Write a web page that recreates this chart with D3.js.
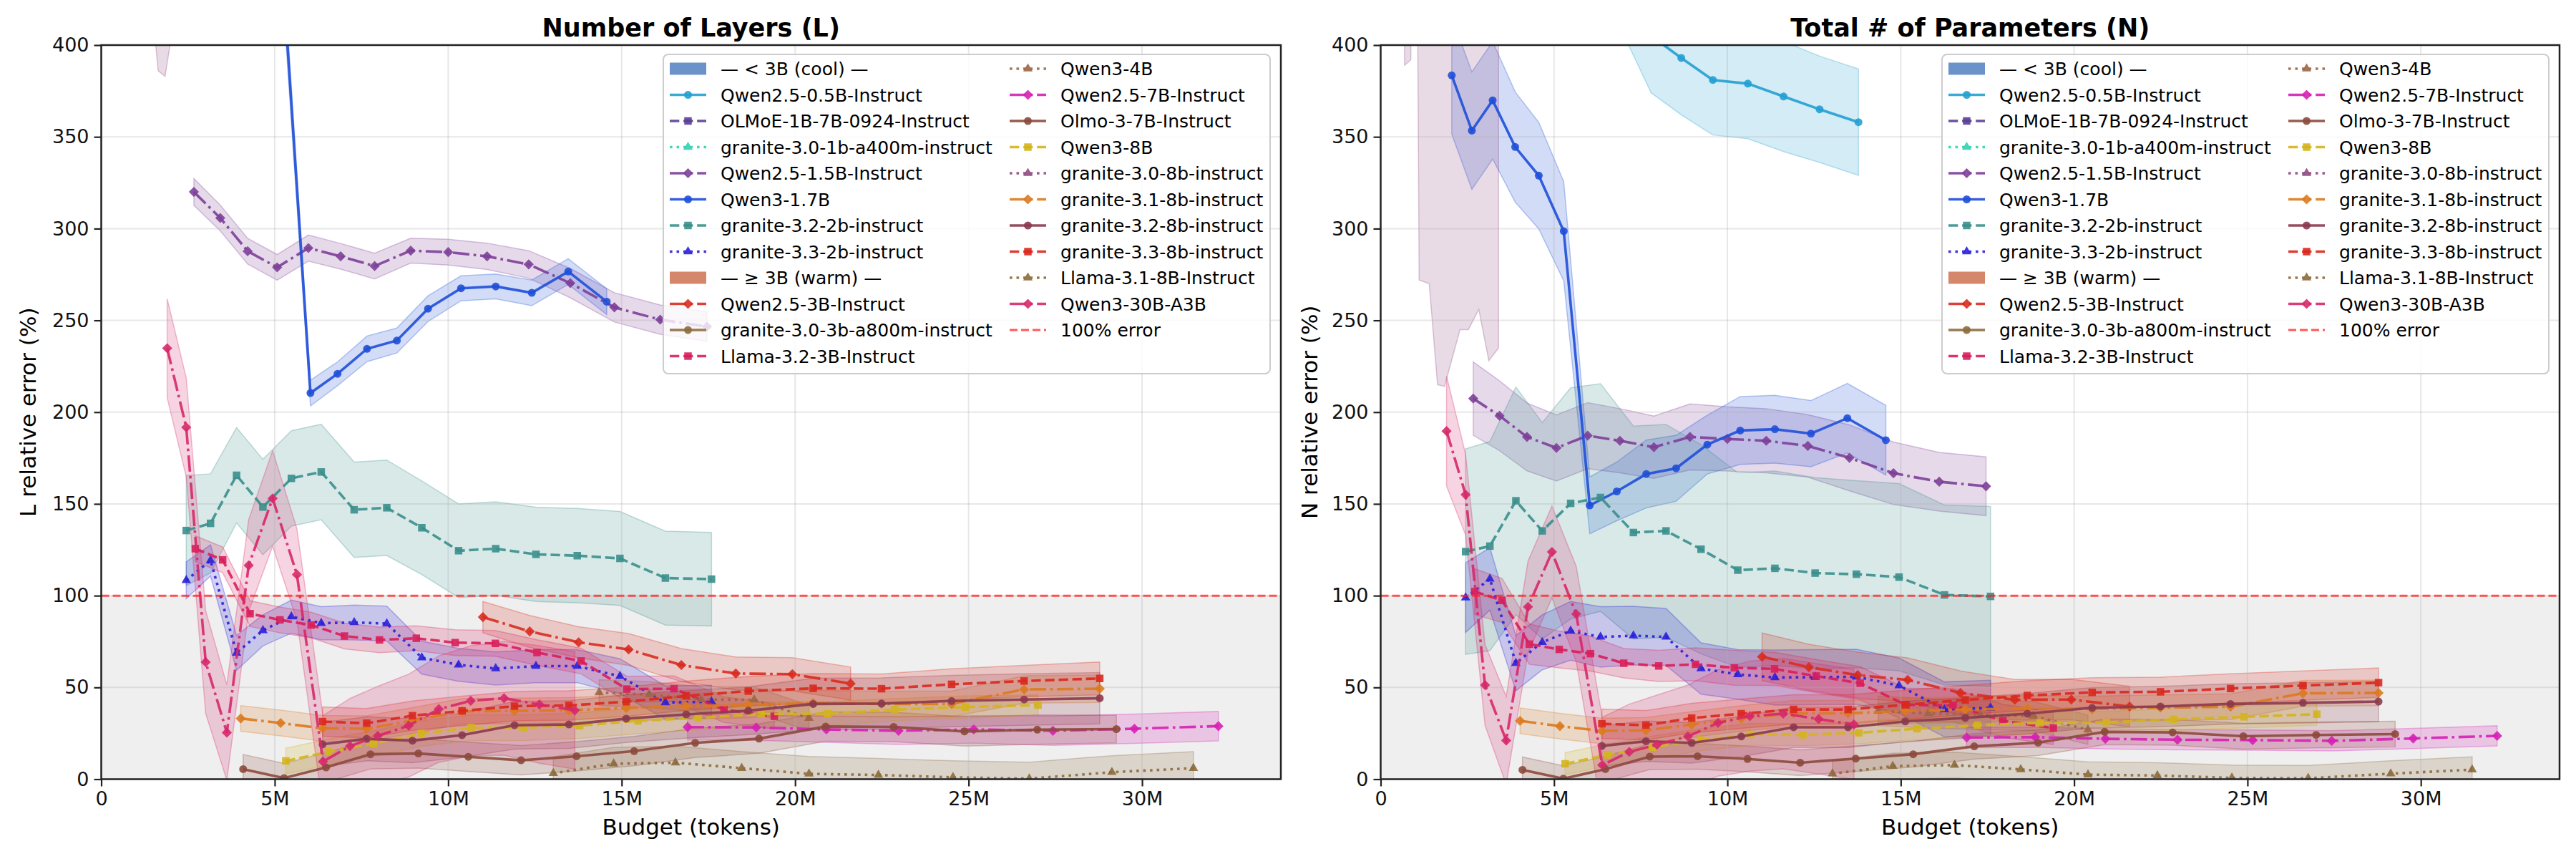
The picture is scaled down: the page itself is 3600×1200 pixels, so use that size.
<!DOCTYPE html>
<html>
<head>
<meta charset="utf-8">
<script src="https://cdnjs.cloudflare.com/ajax/libs/d3/7.8.5/d3.min.js"></script>
<style>
  body { margin: 0; background: #fff; }
  svg { display: block; font-family: "DejaVu Sans", sans-serif; }
</style>
</head>
<body>
<svg id="chart" width="3600" height="1200"></svg>
<script>
// ---- data: budget (M tokens), mean relative error and spread, per model ----
// L = number of layers panel, N = total parameters panel

// Qwen2.5-0.5B-Instruct
const q05_x = [3.6, 4.4, 5.2, 6.0, 6.8, 7.8, 8.67, 9.58, 10.59, 11.62, 12.66, 13.78];
const q05_L = [980, 920, 870, 820, 780, 740, 710, 690, 675, 660, 650, 640];
const q05_Lsd = [40, 38, 36, 35, 34, 32, 31, 30, 30, 29, 29, 29];
const q05_N = [640, 590, 530, 485, 443, 405, 393, 381, 379, 372, 365, 358];
const q05_Nsd = [34, 33, 32, 31, 29, 31, 31, 30, 30, 30, 29, 29];

// OLMoE-1B-7B-0924-Instruct
const olmoe_x = [1.3, 1.9, 2.6, 3.4, 4.3, 5.3, 6.4, 7.6, 8.9, 10.3];
const olmoe_L = [1450, 1320, 1260, 1180, 1120, 1060, 1010, 980, 950, 930];
const olmoe_Lsd = [90, 85, 80, 75, 70, 68, 65, 62, 60, 58];
const olmoe_N = [980, 900, 860, 820, 790, 760, 730, 710, 690, 675];
const olmoe_Nsd = [70, 65, 60, 58, 55, 52, 50, 48, 46, 45];

// granite-3.0-1b-a400m-instruct
const g301b_x = [1.0, 1.5, 2.1, 2.8, 3.6, 4.5, 5.5, 6.6, 7.8, 9.1];
const g301b_L = [1250, 1150, 1080, 1020, 980, 940, 910, 890, 870, 860];
const g301b_Lsd = [80, 76, 72, 70, 66, 64, 62, 60, 58, 57];
const g301b_N = [900, 840, 800, 760, 730, 700, 680, 660, 645, 630];
const g301b_Nsd = [60, 58, 56, 54, 52, 50, 48, 47, 46, 45];

// Qwen2.5-1.5B-Instruct
const q15_x = [2.67, 3.43, 4.22, 5.07, 5.97, 6.90, 7.88, 8.92, 10.0, 11.12, 12.32, 13.52, 14.79, 16.11, 17.46];
const q15_L = [320.0, 305.8, 287.7, 278.9, 289.4, 284.9, 279.6, 288.0, 287.2, 284.9, 280.5, 270.3, 257.1, 250.4, 246.6];
const q15_Lsd = [7.3, 7.0, 7.0, 7.0, 7.1, 7.0, 7.0, 6.8, 7.0, 7.2, 7.5, 8.0, 8.0, 8.0, 8.0];
const q15_N = [207.4, 198.0, 186.5, 180.5, 187.2, 184.4, 180.9, 186.5, 185.4, 184.4, 181.6, 175.1, 166.7, 162.1, 159.6];
const q15_Nsd = [20, 19, 18.5, 18, 18, 17.5, 17, 18, 17.5, 17.5, 17, 18, 17, 16, 16];

// Qwen3-1.7B
const q317_x = [2.05, 2.63, 3.23, 3.88, 4.56, 5.28, 6.03, 6.81, 7.66, 8.52, 9.42, 10.37, 11.37, 12.41, 13.46, 14.57];
const q317_L = [640, 600, 620, 560, 520, 425, 210.4, 220.9, 234.5, 239.0, 256.4, 267.5, 268.5, 265.0, 276.6, 260.2];
const q317_Lsd = [14, 13, 13, 12, 12, 11, 7, 6.5, 7, 6.8, 7, 6.8, 6.8, 7, 7, 7];
const q317_N = [383.5, 353.4, 369.9, 344.5, 328.9, 298.6, 149.2, 156.8, 166.3, 169.4, 182.3, 190.0, 190.7, 188.3, 196.7, 184.7];
const q317_Nsd = [32, 32, 32, 30, 29, 27, 15.5, 16, 18.5, 18, 16, 18.5, 18.5, 18, 19, 19];

// granite-3.2-2b-instruct
const g322b_x = [2.45, 3.15, 3.90, 4.66, 5.48, 6.34, 7.29, 8.23, 9.24, 10.30, 11.37, 12.53, 13.72, 14.95, 16.26, 17.59];
const g322b_L = [135.5, 139.4, 165.6, 148.3, 163.9, 167.4, 146.8, 147.9, 137.0, 124.5, 125.6, 122.5, 121.8, 120.3, 109.6, 109.0];
const g322b_Lsd = [30, 27, 26, 26, 26, 26, 26, 26, 25.5, 25.5, 25.5, 25.7, 25.7, 25.6, 25.6, 25.5];
const g322b_N = [124.0, 127.0, 151.7, 135.3, 150.3, 153.5, 134.4, 135.3, 125.3, 113.9, 114.9, 112.3, 111.7, 110.1, 100.4, 99.6];
const g322b_Nsd = [56, 57, 62, 59, 63, 62, 58, 58, 57, 53, 53, 52, 51, 51, 49, 49];

// granite-3.3-2b-instruct
const g332b_x = [2.45, 3.15, 3.90, 4.66, 5.48, 6.34, 7.29, 8.23, 9.24, 10.30, 11.37, 12.53, 13.72, 14.95, 16.26, 17.59];
const g332b_L = [108.4, 119.2, 68.8, 81.1, 88.6, 85.0, 85.4, 84.8, 66.2, 62.3, 60.3, 61.6, 61.6, 56.1, 41.8, 42.2];
const g332b_Lsd = [10, 8.5, 9.5, 8.5, 9, 9, 9.5, 9.5, 9, 9, 9, 9, 9, 9.5, 9, 9];
const g332b_N = [98.9, 109.1, 63.2, 74.6, 80.8, 77.5, 78.2, 77.5, 60.3, 57.1, 55.4, 55.6, 55.8, 51.0, 38.0, 38.9];
const g332b_Nsd = [19, 17, 15, 15, 16, 16.5, 16, 15.5, 14, 13.5, 15, 15, 15, 15, 15, 15];

// Qwen2.5-3B-Instruct
const q3b_x = [11.0, 12.35, 13.76, 15.2, 16.72, 18.29, 19.92, 21.6];
const q3b_L = [88.3, 80.5, 74.6, 70.7, 62.2, 57.6, 57.2, 52.1];
const q3b_Lsd = [8.5, 8.7, 8.5, 8.7, 9, 9, 9, 9];
const q3b_N = [66.7, 61.0, 56.7, 54.1, 47.0, 43.3, 43.4, 39.6];
const q3b_Nsd = [13, 12.5, 12.5, 12, 12, 11, 11, 11];

// granite-3.0-3b-a800m-instruct
const g303b_x = [1.5, 2.3, 3.2, 4.2, 5.3, 6.5, 7.8, 9.2];
const g303b_L = [1100, 1050, 990, 950, 920, 890, 870, 850];
const g303b_Lsd = [70, 68, 66, 64, 62, 60, 58, 56];
const g303b_N = [760, 720, 690, 660, 640, 620, 600, 590];
const g303b_Nsd = [55, 54, 52, 50, 48, 47, 46, 45];

// Llama-3.2-3B-Instruct
const l323b_x = [2.71, 3.50, 4.29, 5.15, 6.05, 7.01, 8.02, 9.08, 10.20, 11.36, 12.56, 13.83, 15.15, 16.51, 17.95, 19.40];
const l323b_L = [125.6, 119.5, 90.2, 86.8, 84.0, 78.0, 75.9, 76.8, 74.4, 74.0, 69.0, 64.4, 49.1, 49.3, 37.9, 34.3];
const l323b_Lsd = [7, 7, 7, 7, 7, 7, 7, 6.8, 7, 7, 7, 7, 7, 7, 7, 7];
const l323b_N = [102.2, 97.4, 73.6, 70.7, 68.4, 63.2, 61.7, 62.6, 60.7, 60.1, 56.2, 52.3, 40.5, 40.2, 31.8, 27.9];
const l323b_Nsd = [12.5, 12, 11, 10, 9.5, 8, 8.5, 9, 9.5, 9, 9, 9, 9, 9, 9, 9];

// Qwen3-4B
const q34b_x = [14.35, 15.8, 17.29, 18.82, 20.4];
const q34b_L = [47.2, 46.1, 43.4, 43.3, 33.3];
const q34b_Lsd = [7, 7, 7, 7, 7];
const q34b_N = [37.2, 35.9, 35.0, 34.4, 26.9];
const q34b_Nsd = [8, 8, 8, 8, 8];

// Qwen2.5-7B-Instruct
const q7b_x = [16.9, 18.88, 20.9, 22.98, 25.15, 27.43, 29.78, 32.2];
const q7b_L = [28.4, 28.2, 27.1, 26.4, 27.1, 26.4, 27.5, 28.9];
const q7b_Lsd = [7, 7, 7, 7.5, 7.5, 8, 8, 8];
const q7b_N = [22.7, 22.9, 22.0, 21.5, 21.3, 20.9, 22.2, 23.6];
const q7b_Nsd = [5.5, 5.5, 5.5, 5.5, 5.5, 5.5, 5.5, 5.5];

// Olmo-3-7B-Instruct
const o37b_x = [4.09, 5.27, 6.48, 7.76, 9.14, 10.58, 12.1, 13.7, 15.36, 17.12, 18.96, 20.88, 22.84, 24.88, 26.98, 29.26];
const o37b_L = [5.5, 0.6, 6.4, 13.6, 14.0, 12.2, 10.3, 12.5, 15.3, 19.8, 22.1, 28.7, 28.5, 26.0, 27.0, 27.3];
const o37b_Lsd = [8, 8, 8, 8, 8, 8, 8, 8, 8, 8, 8, 8, 8, 8, 8, 7.5];
const o37b_N = [5.1, 0.3, 5.5, 12.3, 12.5, 11.0, 9.0, 11.2, 13.6, 17.9, 19.9, 25.8, 25.5, 23.4, 24.1, 24.6];
const o37b_Nsd = [7, 7, 7, 7, 7, 7, 7, 7, 7, 7, 7, 7, 7, 7, 7, 7];

// Qwen3-8B
const q38b_x = [5.32, 6.55, 7.85, 9.22, 10.66, 12.18, 13.79, 15.47, 17.21, 19.02, 20.93, 22.87, 24.9, 27.0];
const q38b_L = [9.9, 14.9, 19.4, 24.9, 28.1, 28.1, 29.2, 31.8, 33.4, 35.5, 35.7, 37.9, 39.3, 40.4];
const q38b_Lsd = [7, 7, 7, 7, 7, 7, 7, 7, 6.5, 6.5, 6.5, 6, 6, 5.5];
const q38b_N = [8.4, 13.3, 17.5, 21.4, 24.4, 24.2, 25.3, 27.5, 29.4, 30.7, 30.9, 32.6, 34.0, 35.4];
const q38b_Nsd = [6, 6, 6, 6, 6, 6, 6, 6, 6, 6, 6, 6, 6, 6];

// granite-3.0-8b-instruct
const g308b_x = [0.69, 0.87, 0.98, 1.11, 1.40, 1.64, 1.84, 2.29, 2.53, 2.83, 3.12, 3.40];
const g308b_L = [1300, 1300, 1300, 1100, 800, 760, 750, 800, 860, 880, 900, 920];
const g308b_Lsd = [400, 400, 400, 400, 366, 374, 367, 363, 360, 360, 360, 360];
const g308b_N = [560, 580, 900, 500, 520, 480, 470, 500, 490, 500, 470, 480];
const g308b_Nsd = [171, 188, 200, 228, 250, 265, 256, 255, 245, 244, 242, 245];

// granite-3.1-8b-instruct
const g318b_x = [4.02, 5.17, 6.38, 7.65, 8.97, 10.40, 11.91, 13.48, 15.13, 16.86, 18.65, 20.52, 22.49, 24.51, 26.60, 28.78];
const g318b_L = [33.1, 30.6, 27.7, 27.5, 32.0, 37.0, 37.2, 37.5, 38.8, 39.8, 40.4, 41.5, 41.0, 41.0, 48.9, 49.3];
const g318b_Lsd = [7, 7, 7, 7, 7, 7, 7, 7, 7, 7, 7, 7, 7, 7, 7.5, 7.5];
const g318b_N = [31.8, 28.9, 26.3, 26.6, 29.8, 33.1, 35.9, 35.9, 37.2, 38.0, 38.6, 38.2, 39.0, 39.5, 46.8, 47.0];
const g318b_Nsd = [7, 7, 7, 7, 7, 7, 7, 7, 7, 7, 7, 7, 7, 7, 7, 7];

// granite-3.2-8b-instruct
const g328b_x = [6.38, 7.65, 8.97, 10.40, 11.91, 13.48, 15.13, 16.86, 18.65, 20.52, 22.49, 24.51, 26.60, 28.78];
const g328b_L = [19.0, 22.0, 21.0, 24.0, 29.4, 29.8, 33.0, 35.3, 37.3, 41.0, 41.2, 42.6, 43.4, 44.1];
const g328b_Lsd = [12, 12, 12, 12, 13, 13, 13, 13, 13, 14, 14, 14, 14, 14];
const g328b_N = [18.1, 20.7, 19.8, 23.3, 28.3, 28.3, 31.5, 33.4, 35.7, 38.9, 39.6, 41.0, 41.6, 42.3];
const g328b_Nsd = [11, 11, 11, 11, 11, 11, 11, 11, 11, 11, 11, 11, 11, 11];

// granite-3.3-8b-instruct
const g338b_x = [6.38, 7.65, 8.97, 10.40, 11.91, 13.48, 15.13, 16.86, 18.65, 20.52, 22.49, 24.51, 26.60, 28.78];
const g338b_L = [31.4, 30.5, 34.6, 37.2, 39.8, 40.2, 42.2, 45.4, 48.0, 49.5, 49.3, 51.7, 53.5, 54.9];
const g338b_Lsd = [8, 8, 8, 8, 8, 8, 8, 8, 8, 8, 8, 8.5, 8.5, 9];
const g338b_N = [30.2, 29.4, 33.3, 35.7, 38.0, 38.0, 40.5, 43.2, 45.6, 47.3, 47.6, 49.4, 51.0, 52.6];
const g338b_Nsd = [8, 8, 8, 8, 8, 8, 8, 8, 8, 8, 8, 8, 8, 8];

// Llama-3.1-8B-Instruct
const l318b_x = [13.03, 14.77, 16.55, 18.46, 20.4, 22.4, 24.55, 26.75, 29.13, 31.48];
const l318b_L = [3.2, 8.4, 9.0, 6.0, 2.9, 2.3, 1.0, 0.3, 3.8, 6.0];
const l318b_Lsd = [9, 9, 9, 9, 9.5, 9, 9, 9, 9, 9];
const l318b_N = [3.0, 7.1, 7.7, 5.3, 2.5, 2.0, 0.7, 0.5, 3.0, 5.2];
const l318b_Nsd = [7, 7, 7, 7, 7, 7, 7, 7, 7, 7];

// Qwen3-30B-A3B
const q330b_x = [1.90, 2.45, 3.01, 3.62, 4.25, 4.94, 5.64, 6.39, 7.17, 7.97, 8.86, 9.73, 10.65, 11.61, 12.63, 13.65];
const q330b_L = [234.8, 191.7, 63.8, 25.4, 116.5, 153.0, 111.5, 9.6, 18.0, 23.6, 29.2, 38.2, 42.7, 44.1, 40.7, 37.5];
const q330b_Lsd = [27, 27, 28, 26, 25, 26, 25, 25, 26, 27, 28, 29, 30, 31, 32, 32];
const q330b_N = [189.7, 155.0, 51.3, 21.1, 93.9, 123.8, 90.0, 7.7, 14.9, 18.8, 23.3, 30.7, 34.4, 35.7, 32.8, 29.8];
const q330b_Nsd = [30, 22, 22, 24, 25, 25, 26, 26, 26, 27, 28, 29, 30, 30, 30, 30];

const xTicks = [0, 5, 10, 15, 20, 25, 30];
const yTicks = [0, 50, 100, 150, 200, 250, 300, 350, 400];

// ---- model table (cool group first, then warm) ----
const models = [
  {name: "Qwen2.5-0.5B-Instruct", group: "cool", color: "#23a0d2", style: "solid", marker: "o", x: q05_x, L: q05_L, Lsd: q05_Lsd, N: q05_N, Nsd: q05_Nsd},
  {name: "OLMoE-1B-7B-0924-Instruct", group: "cool", color: "#5a3e96", style: "dashed", marker: "s", x: olmoe_x, L: olmoe_L, Lsd: olmoe_Lsd, N: olmoe_N, Nsd: olmoe_Nsd},
  {name: "granite-3.0-1b-a400m-instruct", group: "cool", color: "#2ed3b0", style: "dotted", marker: "^", x: g301b_x, L: g301b_L, Lsd: g301b_Lsd, N: g301b_N, Nsd: g301b_Nsd},
  {name: "Qwen2.5-1.5B-Instruct", group: "cool", color: "#7d3f98", style: "dashdot", marker: "D", x: q15_x, L: q15_L, Lsd: q15_Lsd, N: q15_N, Nsd: q15_Nsd},
  {name: "Qwen3-1.7B", group: "cool", color: "#1f4fd8", style: "solid", marker: "o", x: q317_x, L: q317_L, Lsd: q317_Lsd, N: q317_N, Nsd: q317_Nsd},
  {name: "granite-3.2-2b-instruct", group: "cool", color: "#3a8f8c", style: "dashed", marker: "s", x: g322b_x, L: g322b_L, Lsd: g322b_Lsd, N: g322b_N, Nsd: g322b_Nsd},
  {name: "granite-3.3-2b-instruct", group: "cool", color: "#2a1fd8", style: "dotted", marker: "^", x: g332b_x, L: g332b_L, Lsd: g332b_Lsd, N: g332b_N, Nsd: g332b_Nsd},
  {name: "Qwen2.5-3B-Instruct", group: "warm", color: "#d92b1f", style: "dashdot", marker: "D", x: q3b_x, L: q3b_L, Lsd: q3b_Lsd, N: q3b_N, Nsd: q3b_Nsd},
  {name: "granite-3.0-3b-a800m-instruct", group: "warm", color: "#8c6c3c", style: "solid", marker: "o", x: g303b_x, L: g303b_L, Lsd: g303b_Lsd, N: g303b_N, Nsd: g303b_Nsd},
  {name: "Llama-3.2-3B-Instruct", group: "warm", color: "#d81e5b", style: "dashed", marker: "s", x: l323b_x, L: l323b_L, Lsd: l323b_Lsd, N: l323b_N, Nsd: l323b_Nsd},
  {name: "Qwen3-4B", group: "warm", color: "#9c6644", style: "dotted", marker: "^", x: q34b_x, L: q34b_L, Lsd: q34b_Lsd, N: q34b_N, Nsd: q34b_Nsd},
  {name: "Qwen2.5-7B-Instruct", group: "warm", color: "#d620b4", style: "dashdot", marker: "D", x: q7b_x, L: q7b_L, Lsd: q7b_Lsd, N: q7b_N, Nsd: q7b_Nsd},
  {name: "Olmo-3-7B-Instruct", group: "warm", color: "#8c4a3c", style: "solid", marker: "o", x: o37b_x, L: o37b_L, Lsd: o37b_Lsd, N: o37b_N, Nsd: o37b_Nsd},
  {name: "Qwen3-8B", group: "warm", color: "#d4b41c", style: "dashed", marker: "s", x: q38b_x, L: q38b_L, Lsd: q38b_Lsd, N: q38b_N, Nsd: q38b_Nsd},
  {name: "granite-3.0-8b-instruct", group: "warm", color: "#8e4a80", style: "dotted", marker: "^", x: g308b_x, L: g308b_L, Lsd: g308b_Lsd, N: g308b_N, Nsd: g308b_Nsd},
  {name: "granite-3.1-8b-instruct", group: "warm", color: "#db7a1e", style: "dashdot", marker: "D", x: g318b_x, L: g318b_L, Lsd: g318b_Lsd, N: g318b_N, Nsd: g318b_Nsd},
  {name: "granite-3.2-8b-instruct", group: "warm", color: "#8b3a4e", style: "solid", marker: "o", x: g328b_x, L: g328b_L, Lsd: g328b_Lsd, N: g328b_N, Nsd: g328b_Nsd},
  {name: "granite-3.3-8b-instruct", group: "warm", color: "#d9281e", style: "dashed", marker: "s", x: g338b_x, L: g338b_L, Lsd: g338b_Lsd, N: g338b_N, Nsd: g338b_Nsd},
  {name: "Llama-3.1-8B-Instruct", group: "warm", color: "#8c6a3a", style: "dotted", marker: "^", x: l318b_x, L: l318b_L, Lsd: l318b_Lsd, N: l318b_N, Nsd: l318b_Nsd},
  {name: "Qwen3-30B-A3B", group: "warm", color: "#d6286a", style: "dashdot", marker: "D", x: q330b_x, L: q330b_L, Lsd: q330b_Lsd, N: q330b_N, Nsd: q330b_Nsd}
];

const dashes = {solid: null, dashed: "13.3,5.8", dotted: "3.6,5.9", dashdot: "23,5.8,3.6,5.8"};
const LW = 3.6;

const panels = [
  {key: "L", x0: 141.5, x1: 1790, title: "Number of Layers (L)", ylab: "L relative error (%)", ylabX: 50},
  {key: "N", x0: 1929.5, x1: 3577, title: "Total # of Parameters (N)", ylab: "N relative error (%)", ylabX: 1841}
];
const TOP = 63, BOTTOM = 1088.5;

const svg = d3.select("#chart");

function markerPath(m) {
  if (m === "o") return d3.symbol(d3.symbolCircle, 95)();
  if (m === "s") return d3.symbol(d3.symbolSquare, 110)();
  if (m === "^") return d3.symbol(d3.symbolTriangle, 75)();
  return d3.symbol(d3.symbolSquare, 100)(); // diamond = rotated square
}
function markerTransform(m, px, py) {
  return "translate(" + px + "," + py + ")" + (m === "D" ? " rotate(45)" : "");
}

panels.forEach(function(p, pi) {
  const x = d3.scaleLinear().domain([0, 34]).range([p.x0, p.x1]);
  const y = d3.scaleLinear().domain([0, 400]).range([BOTTOM, TOP]);
  const g = svg.append("g");

  const clipId = "clip" + pi;
  svg.append("clipPath").attr("id", clipId)
    .append("rect").attr("x", p.x0).attr("y", TOP).attr("width", p.x1 - p.x0).attr("height", BOTTOM - TOP);

  const plot = g.append("g").attr("clip-path", "url(#" + clipId + ")");

  // grey "below 100%" span
  plot.append("rect")
    .attr("x", p.x0).attr("width", p.x1 - p.x0)
    .attr("y", y(100)).attr("height", y(0) - y(100))
    .attr("fill", "#808080").attr("fill-opacity", 0.13);

  // bands
  models.forEach(function(m) {
    const pts = m.x.map((v, i) => ({x: v, m: m[p.key][i], s: m[p.key + "sd"][i]}));
    const area = d3.area()
      .x(d => x(d.x))
      .y0(d => y(d.m - d.s))
      .y1(d => y(d.m + d.s));
    plot.append("path")
      .attr("d", area(pts) + "Z")
      .attr("fill", m.color).attr("fill-opacity", 0.2)
      .attr("stroke", m.color).attr("stroke-opacity", 0.3).attr("stroke-width", 1.5);
  });

  // grid
  plot.selectAll(".gx").data(xTicks).enter().append("line")
    .attr("x1", d => x(d)).attr("x2", d => x(d)).attr("y1", TOP).attr("y2", BOTTOM)
    .attr("stroke", "#b0b0b0").attr("stroke-opacity", 0.3).attr("stroke-width", 2);
  plot.selectAll(".gy").data(yTicks).enter().append("line")
    .attr("y1", d => y(d)).attr("y2", d => y(d)).attr("x1", p.x0).attr("x2", p.x1)
    .attr("stroke", "#b0b0b0").attr("stroke-opacity", 0.3).attr("stroke-width", 2);

  // lines + markers
  models.forEach(function(m) {
    const pts = m.x.map((v, i) => ({x: v, v: m[p.key][i]}));
    const line = d3.line().x(d => x(d.x)).y(d => y(d.v));
    plot.append("path")
      .attr("d", line(pts))
      .attr("fill", "none")
      .attr("stroke", m.color).attr("stroke-width", LW).attr("stroke-opacity", 0.9)
      .attr("stroke-dasharray", dashes[m.style]);
    plot.selectAll(null).data(pts).enter().append("path")
      .attr("d", markerPath(m.marker))
      .attr("transform", d => markerTransform(m.marker, x(d.x), y(d.v)))
      .attr("fill", m.color).attr("fill-opacity", 0.9);
  });

  // 100% error reference
  plot.append("line")
    .attr("x1", p.x0).attr("x2", p.x1).attr("y1", y(100)).attr("y2", y(100))
    .attr("stroke", "#ff2020").attr("stroke-opacity", 0.75).attr("stroke-width", 3)
    .attr("stroke-dasharray", "11,5");

  // axes
  const xAxis = d3.axisBottom(x).tickValues(xTicks)
    .tickFormat(d => d === 0 ? "0" : d + "M").tickSize(10).tickPadding(7);
  const yAxis = d3.axisLeft(y).tickValues(yTicks).tickSize(10).tickPadding(7);
  const gx = g.append("g").attr("transform", "translate(0," + BOTTOM + ")").call(xAxis);
  const gy = g.append("g").attr("transform", "translate(" + p.x0 + ",0)").call(yAxis);
  [gx, gy].forEach(function(a) {
    a.select(".domain").remove();
    a.selectAll(".tick line").attr("stroke", "#222").attr("stroke-width", 2.2);
    a.selectAll(".tick text").attr("fill", "#111").style("font-size", "27px")
      .style("font-family", "DejaVu Sans");
  });

  // frame
  g.append("rect")
    .attr("x", p.x0).attr("y", TOP).attr("width", p.x1 - p.x0).attr("height", BOTTOM - TOP)
    .attr("fill", "none").attr("stroke", "#222").attr("stroke-width", 2.5);

  // title and labels
  g.append("text")
    .attr("x", (p.x0 + p.x1) / 2).attr("y", 51)
    .attr("text-anchor", "middle")
    .style("font-size", "35px").style("font-weight", "bold")
    .text(p.title);
  g.append("text")
    .attr("x", (p.x0 + p.x1) / 2).attr("y", 1166)
    .attr("text-anchor", "middle")
    .style("font-size", "31px")
    .text("Budget (tokens)");
  g.append("text")
    .attr("transform", "translate(" + p.ylabX + "," + ((TOP + BOTTOM) / 2) + ") rotate(-90)")
    .attr("text-anchor", "middle")
    .style("font-size", "31px")
    .text(p.ylab);

  // legend
  const lx = p.x1 - 863, ly = 76;
  const leg = g.append("g");
  leg.append("rect")
    .attr("x", lx).attr("y", ly).attr("width", 848).attr("height", 446).attr("rx", 7)
    .attr("fill", "#fff").attr("fill-opacity", 0.8)
    .attr("stroke", "#cccccc").attr("stroke-width", 2);

  const cool = models.filter(m => m.group === "cool");
  const warm = models.filter(m => m.group === "warm");
  const entries = [{header: "— < 3B (cool) —", color: "#6b93c9"}]
    .concat(cool)
    .concat([{header: "— ≥ 3B (warm) —", color: "#d4876a"}])
    .concat(warm)
    .concat([{ref: true, name: "100% error"}]);

  entries.forEach(function(e, i) {
    const col = i < 12 ? 0 : 1;
    const row = col === 0 ? i : i - 12;
    const hx = lx + (col === 0 ? 9 : 484);
    const cy = 96 + row * 36.5;
    if (e.header) {
      leg.append("rect").attr("x", hx).attr("y", cy - 8.5).attr("width", 51).attr("height", 17)
        .attr("fill", e.color);
    } else if (e.ref) {
      leg.append("line").attr("x1", hx).attr("x2", hx + 51).attr("y1", cy).attr("y2", cy)
        .attr("stroke", "#ff2020").attr("stroke-opacity", 0.75).attr("stroke-width", 3)
        .attr("stroke-dasharray", "11,5");
    } else {
      leg.append("line").attr("x1", hx).attr("x2", hx + 51).attr("y1", cy).attr("y2", cy)
        .attr("stroke", e.color).attr("stroke-width", LW).attr("stroke-opacity", 0.9)
        .attr("stroke-dasharray", dashes[e.style]);
      leg.append("path").attr("d", markerPath(e.marker))
        .attr("transform", markerTransform(e.marker, hx + 25.5, cy))
        .attr("fill", e.color).attr("fill-opacity", 0.9);
    }
    leg.append("text")
      .attr("x", hx + 71).attr("y", cy + 9)
      .style("font-size", "25px")
      .text(e.header || e.name);
  });
});
</script>
</body>
</html>
